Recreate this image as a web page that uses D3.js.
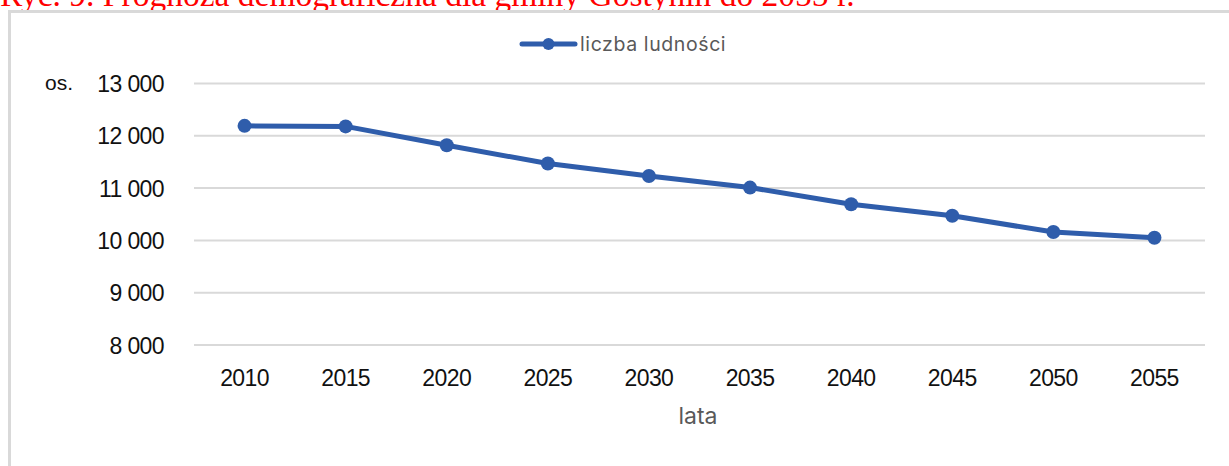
<!DOCTYPE html>
<html>
<head>
<meta charset="utf-8">
<script src="https://cdn.jsdelivr.net/npm/d3@7"></script>
<style>
  html, body { margin: 0; padding: 0; background: #fff; }
  svg { display: block; }
</style>
</head>
<body>
<svg width="1229" height="466"></svg>
<script>
// data
const years = ["2010", "2015", "2020", "2025", "2030", "2035", "2040", "2045", "2050", "2055"];
const population = [12190, 12180, 11820, 11470, 11230, 11010, 10690, 10470, 10160, 10050];
const yTicks = [8000, 9000, 10000, 11000, 12000, 13000];

const seriesName = "liczba ludności";
const titleText = "Ryc. 9. Prognoza demograficzna dla gminy Gostynin do 2055 r.";

const svg = d3.select("svg"),
  width = +svg.attr("width"),
  height = +svg.attr("height");

const blue = "#2f5dab";
const grid = "#d9d9d9";

// caption above the chart (cut off at top in the original)
svg.append("text")
  .attr("x", 0)
  .attr("y", 6)
  .attr("font-family", "Liberation Serif, Times New Roman, serif")
  .attr("font-size", "33.5px")
  .attr("fill", "#ff0000")
  .text(titleText);

// chart frame
svg.append("rect")
  .attr("x", 9.5)
  .attr("y", 11.5)
  .attr("width", width + 20)
  .attr("height", height + 20)
  .attr("fill", "#fff")
  .attr("stroke", grid)
  .attr("stroke-width", 3);

const x = d3.scaleBand()
  .domain(years)
  .range([194, 1205]);

const y = d3.scaleLinear()
  .domain([8000, 13000])
  .range([345, 83.5]);

// gridlines
svg.append("g")
  .selectAll("line")
  .data(yTicks)
  .enter().append("line")
  .attr("x1", 194)
  .attr("x2", 1205)
  .attr("y1", d => y(d))
  .attr("y2", d => y(d))
  .attr("stroke", grid)
  .attr("stroke-width", 2);

// y labels, space as thousands separator
const fmt = d => d3.format(",")(d).replace(/,/g, " ");
svg.append("g")
  .selectAll("text")
  .data(yTicks)
  .enter().append("text")
  .attr("x", 164)
  .attr("y", d => y(d) + 8.5)
  .attr("text-anchor", "end")
  .attr("font-family", "Liberation Sans, Arial, sans-serif")
  .attr("font-size", "23px")
  .attr("letter-spacing", "-0.6px")
  .attr("fill", "#111")
  .text(fmt);

svg.append("text")
  .attr("x", 45)
  .attr("y", 90)
  .attr("font-family", "Liberation Sans, Arial, sans-serif")
  .attr("font-size", "21px")
  .attr("fill", "#111")
  .text("os.");

// x labels
svg.append("g")
  .selectAll("text")
  .data(years)
  .enter().append("text")
  .attr("x", d => x(d) + x.bandwidth() / 2)
  .attr("y", 386)
  .attr("text-anchor", "middle")
  .attr("font-family", "Liberation Sans, Arial, sans-serif")
  .attr("font-size", "23px")
  .attr("letter-spacing", "-0.6px")
  .attr("fill", "#111")
  .text(d => d);

svg.append("text")
  .attr("x", 698)
  .attr("y", 424)
  .attr("text-anchor", "middle")
  .attr("font-family", "Inter, sans-serif")
  .attr("font-size", "23px")
  .attr("fill", "#595959")
  .text("lata");

// the series
const pts = years.map((yr, i) => ({ year: yr, value: population[i] }));
const line = d3.line()
  .x(d => x(d.year) + x.bandwidth() / 2)
  .y(d => y(d.value));

svg.append("path")
  .datum(pts)
  .attr("d", line)
  .attr("fill", "none")
  .attr("stroke", blue)
  .attr("stroke-width", 5)
  .attr("stroke-linejoin", "round")
  .attr("stroke-linecap", "round");

svg.append("g")
  .selectAll("circle")
  .data(pts)
  .enter().append("circle")
  .attr("cx", d => x(d.year) + x.bandwidth() / 2)
  .attr("cy", d => y(d.value))
  .attr("r", 7)
  .attr("fill", blue);

// legend
const legend = svg.append("g").attr("transform", "translate(522,44)");
legend.append("line")
  .attr("x1", 0).attr("x2", 53)
  .attr("y1", 0).attr("y2", 0)
  .attr("stroke", blue)
  .attr("stroke-width", 5)
  .attr("stroke-linecap", "round");
legend.append("circle")
  .attr("cx", 26.5).attr("cy", 0).attr("r", 6)
  .attr("fill", blue);
legend.append("text")
  .attr("x", 58)
  .attr("y", 7)
  .attr("font-family", "Inter, sans-serif")
  .attr("font-size", "19.5px")
  .attr("letter-spacing", "0.6px")
  .attr("fill", "#595959")
  .text(seriesName);
</script>
</body>
</html>
